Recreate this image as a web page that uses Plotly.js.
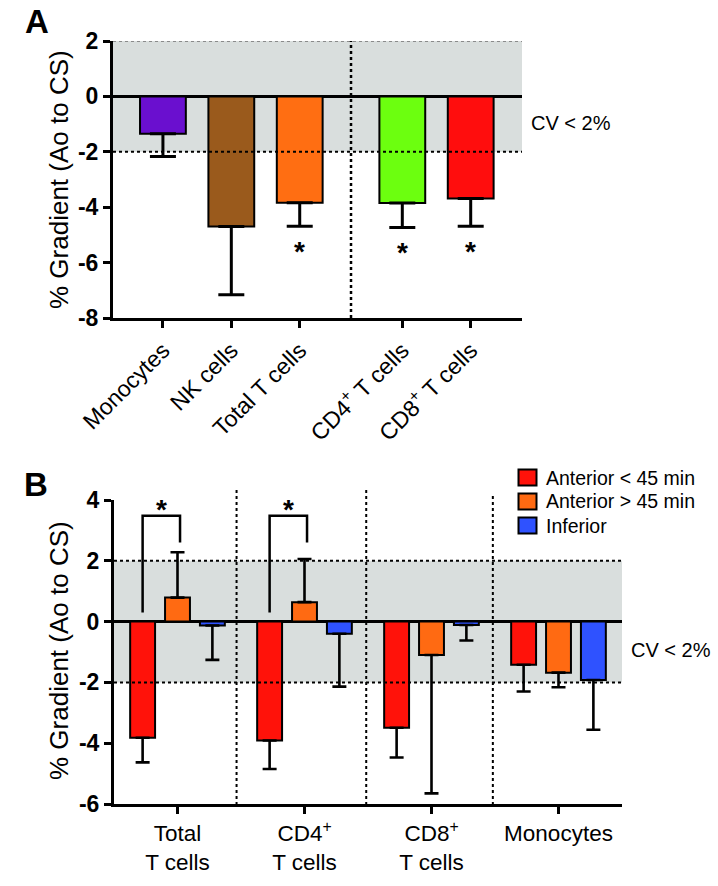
<!DOCTYPE html>
<html>
<head>
<meta charset="utf-8">
<script src="https://cdn.plot.ly/plotly-3.0.1.min.js"></script>
<style>html,body{margin:0;padding:0;background:#fff;}#chart{width:718px;height:886px;}</style>
</head>
<body>
<div id="chart"></div>
<script>
// ---------- Panel A data ----------
const cellsA = ['Monocytes', 'NK cells', 'Total T cells', 'CD4<sup>+</sup> T cells', 'CD8<sup>+</sup> T cells'];
const posA = [0, 1, 2, 3.5, 4.5];
const valsA = [-1.35, -4.70, -3.84, -3.85, -3.69];
const errA = [0.82, 2.46, 0.85, 0.88, 1.00];
const sigA = [false, false, true, true, true];
const colorsA = ['#6a0fcf', '#9a5a1c', '#ff6e12', '#6cff0f', '#ff0d0d'];
const yTicksA = [-8, -6, -4, -2, 0, 2];

// ---------- Panel B data ----------
const groupsB = ['Total<br>T cells', 'CD4<sup>+</sup><br>T cells', 'CD8<sup>+</sup><br>T cells', 'Monocytes'];
const seriesNamesB = ['Anterior < 45 min', 'Anterior > 45 min', 'Inferior'];
const antLt45 = [-3.82, -3.91, -3.49, -1.42];
const antLt45Err = [0.81, 0.94, 0.98, 0.88];
const antGt45 = [0.79, 0.64, -1.10, -1.68];
const antGt45Err = [1.49, 1.42, 4.55, 0.48];
const inferior = [-0.13, -0.40, -0.11, -1.92];
const inferiorErr = [1.13, 1.74, 0.51, 1.64];
const colorsB = ['#ff120a', '#ff6a12', '#2f52ff'];
const sigBGroups = [0, 1];
const yTicksB = [-6, -4, -2, 0, 2, 4];

// ---------- helpers ----------
const W = 718, H = 886;
const px = x => x / W;
const py = y => 1 - y / H;
const FONT = 'Liberation Sans, Arial, Helvetica, sans-serif';
const up = (v, e) => v.map((val, i) => val >= 0 ? e[i] : 0);
const down = (v, e) => v.map((val, i) => val < 0 ? e[i] : 0);

const traces = [];
traces.push({
  type: 'bar', x: posA, y: valsA, width: 0.67, xaxis: 'x', yaxis: 'y',
  marker: {color: colorsA, line: {color: '#000', width: 2}},
  error_y: {type: 'data', symmetric: false, array: up(valsA, errA), arrayminus: down(valsA, errA),
            color: '#000', thickness: 3, width: 13},
  showlegend: false, hoverinfo: 'skip'
});
const dataB = [[antLt45, antLt45Err], [antGt45, antGt45Err], [inferior, inferiorErr]];
const xB = groupsB.map((g, i) => i);
dataB.forEach((d, k) => {
  traces.push({
    type: 'bar', x: xB, y: d[0], name: seriesNamesB[k], xaxis: 'x2', yaxis: 'y2',
    marker: {color: colorsB[k], line: {color: '#000', width: 2}},
    error_y: {type: 'data', symmetric: false, array: up(d[0], d[1]), arrayminus: down(d[0], d[1]),
              color: '#000', thickness: 2.6, width: 7},
    showlegend: false, hoverinfo: 'skip'
  });
});

const bargap = 0.176;
const slot = (1 - bargap) / 3;

const shapes = [];
const annotations = [];
// Panel A band and reference lines
shapes.push({type: 'rect', xref: 'x domain', yref: 'y', x0: 0, x1: 1, y0: -2, y1: 2, fillcolor: '#d9dedd', line: {width: 0}, layer: 'below'});
shapes.push({type: 'line', xref: 'x domain', yref: 'y', x0: 0, x1: 1, y0: 2, y1: 2, line: {color: '#8a8a8a', width: 2, dash: 'dot'}});
shapes.push({type: 'line', xref: 'x domain', yref: 'y', x0: 0, x1: 1, y0: -2, y1: -2, line: {color: '#000', width: 2, dash: 'dot'}});
shapes.push({type: 'line', xref: 'x', yref: 'y', x0: 2.75, x1: 2.75, y0: -8, y1: 2, line: {color: '#000', width: 2.5, dash: 'dot'}});
// Panel B band and reference lines
shapes.push({type: 'rect', xref: 'x2 domain', yref: 'y2', x0: 0, x1: 1, y0: -2, y1: 2, fillcolor: '#d9dedd', line: {width: 0}, layer: 'below'});
shapes.push({type: 'line', xref: 'x2 domain', yref: 'y2', x0: 0, x1: 1, y0: 2, y1: 2, line: {color: '#000', width: 2, dash: 'dot'}});
shapes.push({type: 'line', xref: 'x2 domain', yref: 'y2', x0: 0, x1: 1, y0: -2, y1: -2, line: {color: '#000', width: 2, dash: 'dot'}});
const divX = [0.465, 1.486, 2.483];
const divTops = [487, 487, 493];
divX.forEach((xv, i) => {
  shapes.push({type: 'line', xref: 'x2', yref: 'paper', x0: xv, x1: xv, y0: py(805), y1: py(divTops[i]), line: {color: '#000', width: 2, dash: 'dot'}});
});
// Significance brackets panel B
sigBGroups.forEach(g => {
  const xl = g - slot, xr = g + 0.02;
  shapes.push({type: 'path', xref: 'x2', yref: 'y2',
    path: `M${xl},0.3 L${xl},3.48 L${xr},3.48 L${xr},2.6`, line: {color: '#000', width: 2.5}});
  annotations.push({xref: 'x2', yref: 'y2', x: (xl + xr) / 2, y: 3.95, yshift: -8, text: '<b>*</b>', showarrow: false,
    font: {size: 28, color: '#000', family: FONT}, xanchor: 'center', yanchor: 'middle'});
});
// Asterisks panel A
sigA.forEach((s, i) => {
  if (!s) return;
  annotations.push({xref: 'x', yref: 'y', x: posA[i], y: valsA[i] - errA[i] - 0.7, yshift: -6, text: '<b>*</b>', showarrow: false,
    font: {size: 28, color: '#000', family: FONT}, xanchor: 'center', yanchor: 'middle'});
});
// CV < 2% labels
annotations.push({xref: 'paper', yref: 'y', x: px(529), y: -0.95, text: 'CV &lt; 2%', showarrow: false, xanchor: 'left', yanchor: 'middle', font: {size: 20, color: '#000', family: FONT}});
annotations.push({xref: 'paper', yref: 'y2', x: px(629), y: -0.93, text: 'CV &lt; 2%', showarrow: false, xanchor: 'left', yanchor: 'middle', font: {size: 20, color: '#000', family: FONT}});
// Panel letters
annotations.push({xref: 'paper', yref: 'paper', x: px(37), y: py(22), text: '<b>A</b>', showarrow: false, xanchor: 'center', yanchor: 'middle', font: {size: 33, color: '#000', family: FONT}});
annotations.push({xref: 'paper', yref: 'paper', x: px(36), y: py(485), text: '<b>B</b>', showarrow: false, xanchor: 'center', yanchor: 'middle', font: {size: 33, color: '#000', family: FONT}});
// Y-axis titles
const yTitle = '% Gradient (Ao to CS)';
annotations.push({xref: 'paper', yref: 'paper', x: px(59), y: py(180), text: yTitle, textangle: -90, showarrow: false, xanchor: 'center', yanchor: 'middle', font: {size: 26, color: '#000', family: FONT}});
annotations.push({xref: 'paper', yref: 'paper', x: px(59), y: py(651), text: yTitle, textangle: -90, showarrow: false, xanchor: 'center', yanchor: 'middle', font: {size: 26, color: '#000', family: FONT}});
// Legend (panel B)
const legRows = [477.5, 501.5, 525.5];
seriesNamesB.forEach((n, k) => {
  shapes.push({type: 'rect', xref: 'paper', yref: 'paper', x0: px(518.5), x1: px(536.5), y0: py(legRows[k] + 8), y1: py(legRows[k] - 8),
    fillcolor: colorsB[k], line: {color: '#000', width: 2}});
  annotations.push({xref: 'paper', yref: 'paper', x: px(544), y: py(legRows[k]), text: n.replace('<', '&lt;').replace('>', '&gt;'), showarrow: false,
    xanchor: 'left', yanchor: 'middle', font: {size: 19.5, color: '#000', family: FONT}});
});

const axCommon = {showline: true, linecolor: '#000', linewidth: 3, ticks: 'outside', ticklen: 7, tickwidth: 3, tickcolor: '#000',
  showgrid: false, fixedrange: true};
const layout = {
  width: W, height: H, margin: {l: 0, r: 0, t: 0, b: 0}, paper_bgcolor: '#fff', plot_bgcolor: 'rgba(0,0,0,0)',
  font: {family: FONT, color: '#000'}, showlegend: false, barmode: 'group', bargap: bargap, bargroupgap: 0.286,
  xaxis: Object.assign({}, axCommon, {domain: [px(113), px(522)], range: [-0.73, 5.25], anchor: 'y', tickmode: 'array',
    tickvals: posA, ticktext: cellsA, tickangle: -45, zeroline: false, tickfont: {size: 23, family: FONT, color: '#000'}}),
  yaxis: Object.assign({}, axCommon, {domain: [py(318), py(41)], range: [-8, 2], anchor: 'x', tickmode: 'array',
    tickvals: yTicksA, ticktext: yTicksA.map(String), zeroline: true, zerolinecolor: '#000', zerolinewidth: 3,
    tickfont: {size: 23, family: FONT, color: '#000', weight: 'bold'}}),
  xaxis2: Object.assign({}, axCommon, {domain: [px(114), px(622)], range: [-0.5, 3.5], anchor: 'y2', tickmode: 'array',
    tickvals: xB, ticktext: groupsB, tickangle: 0, zeroline: false, tickfont: {size: 22.5, family: FONT, color: '#000'}}),
  yaxis2: Object.assign({}, axCommon, {domain: [py(804), py(500)], range: [-6, 4], anchor: 'x2', tickmode: 'array',
    tickvals: yTicksB, ticktext: yTicksB.map(String), zeroline: true, zerolinecolor: '#000', zerolinewidth: 3,
    tickfont: {size: 23, family: FONT, color: '#000', weight: 'bold'}}),
  shapes: shapes, annotations: annotations
};
Plotly.newPlot('chart', traces, layout, {staticPlot: true, displayModeBar: false});
</script>
</body>
</html>
